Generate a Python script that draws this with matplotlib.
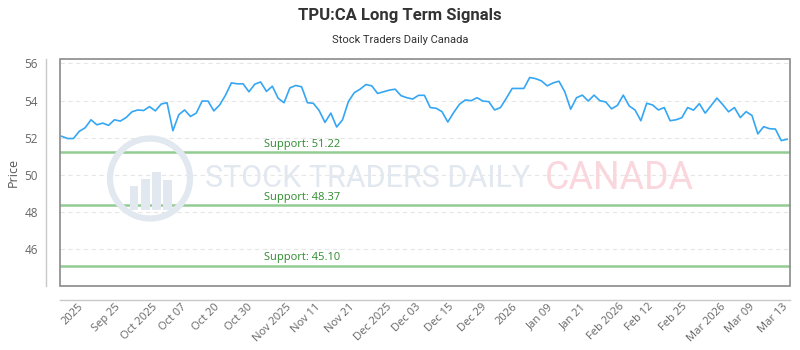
import matplotlib.pyplot as plt
from matplotlib.patches import Rectangle, Ellipse
import numpy as np

# closing prices, one per trading day
price = [
    52.07, 51.95, 51.95, 52.34, 52.53, 52.96, 52.69, 52.78, 52.66, 52.96,
    52.89, 53.08, 53.39, 53.49, 53.46, 53.67, 53.44, 53.81, 53.88, 52.37,
    53.23, 53.49, 53.14, 53.32, 53.97, 53.97, 53.44, 53.76, 54.29, 54.95,
    54.90, 54.90, 54.47, 54.88, 55.00, 54.49, 54.77, 54.12, 53.88, 54.68,
    54.81, 54.74, 53.88, 53.85, 53.46, 52.82, 53.32, 52.57, 52.96, 53.94,
    54.42, 54.61, 54.86, 54.79, 54.38, 54.47, 54.56, 54.61, 54.26, 54.15,
    54.08, 54.28, 54.28, 53.62, 53.58, 53.40, 52.84, 53.35, 53.80, 54.03,
    53.99, 54.15, 53.97, 53.94, 53.49, 53.62, 54.12, 54.65, 54.65, 54.65,
    55.24, 55.18, 55.06, 54.79, 54.95, 55.04, 54.47, 53.53, 54.15, 54.29,
    53.97, 54.29, 53.99, 53.92, 53.55, 53.74, 54.29, 53.71, 53.49, 52.91,
    53.85, 53.76, 53.49, 53.62, 52.91, 52.96, 53.07, 53.62, 53.48, 53.83,
    53.32, 53.72, 54.13, 53.78, 53.39, 53.62, 53.08, 53.40, 53.19, 52.20,
    52.59, 52.48, 52.46, 51.84, 51.91,
]
supports = [51.22, 48.37, 45.10]
xlabels = [
    "2025", "Sep 25", "Oct 2025", "Oct 07", "Oct 20", "Oct 30", "Nov 2025",
    "Nov 11", "Nov 21", "Dec 2025", "Dec 03", "Dec 15", "Dec 29", "2026",
    "Jan 09", "Jan 21", "Feb 2026", "Feb 12", "Feb 25", "Mar 2026",
    "Mar 09", "Mar 13",
]
yticks = [46, 48, 50, 52, 54, 56]

plt.rcParams["font.family"] = ["Open Sans", "DejaVu Sans"]

fig = plt.figure(figsize=(8, 3.5), dpi=100)
ax = fig.add_axes([0.075, 0.183, 0.9125, 0.648])

# watermark: logo ring with bars, then the wordmark
wm = "#e2e8ef"
fig.patches.append(Ellipse((0.1875, 0.49), 80 / 800, 80 / 350, transform=fig.transFigure,
                           fill=False, ec=wm, lw=4.5, zorder=0))
for bx, bh in [(0.162, 0.07), (0.176, 0.09), (0.190, 0.11), (0.204, 0.085)]:
    fig.patches.append(Rectangle((bx, 0.40), 0.011, bh, transform=fig.transFigure,
                                 fc=wm, ec="none", zorder=0))
fig.text(0.256, 0.49, "STOCK TRADERS DAILY", fontsize=22, color=wm,
         family="Roboto", ha="left", va="center", zorder=0)
fig.text(0.681, 0.49, "CANADA", fontsize=27, color="#fad6dd",
         family="Roboto", ha="left", va="center", zorder=0)

x = np.arange(len(price))
ax.plot(x, price, color="#35a6f4", lw=1.2, zorder=3)

for s in supports:
    ax.axhline(s, color="#93cc93", lw=1.8, zorder=2)
    ax.text(0.279, s + 0.12, f"Support: {s:.2f}", transform=ax.get_yaxis_transform(),
            color="#2e8b2e", fontsize=8, ha="left", va="bottom")

ax.set_xlim(-0.3, 124.5)
ax.set_ylim(44.0, 56.23)
ax.set_yticks(yticks)
ax.set_xticks(np.linspace(1.9, 121.6, len(xlabels)))
ax.set_xticklabels(xlabels)
ax.tick_params(axis="both", length=0, colors="#666666", labelsize=8)
ax.tick_params(axis="y", pad=6, labelsize=8.5)
ax.tick_params(axis="x", pad=1, labelrotation=45)
plt.setp(ax.get_xticklabels(), ha="right", rotation_mode="anchor")
ax.yaxis.grid(True, color="#e6e6e6", ls=(0, (4, 3)), lw=0.8)
ax.set_axisbelow(True)
ax.set_ylabel("Price", color="#555555", fontsize=9, labelpad=3)

for side in ["top", "right"]:
    ax.spines[side].set_visible(False)
for side in ["left", "bottom"]:
    ax.spines[side].set_position(("outward", 10))
    ax.spines[side].set_color("#c8c8c8")
    ax.spines[side].set_linewidth(1)
ax.add_patch(Rectangle((0, 0), 1, 1, transform=ax.transAxes, fill=False,
                       ec="#8a8a8a", lw=1.2, clip_on=False, zorder=4))

fig.text(0.5, 0.955, "TPU:CA Long Term Signals", ha="center", va="center",
         fontsize=12, fontweight="bold", color="#333333", family="Roboto")
fig.text(0.5, 0.887, "Stock Traders Daily Canada", ha="center", va="center",
         fontsize=8, color="#333333", family="Roboto")

fig.savefig("out.png", dpi=100)
